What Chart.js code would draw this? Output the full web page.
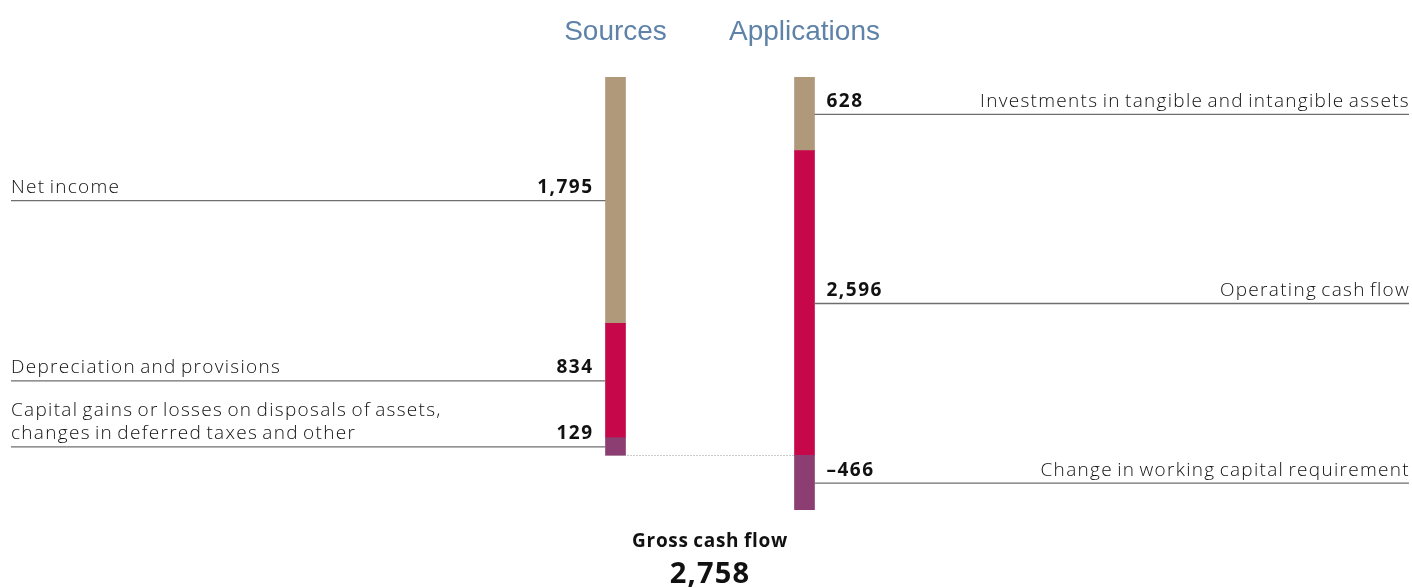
<!DOCTYPE html>
<html>
<head>
<meta charset="utf-8">
<script src="https://cdn.jsdelivr.net/npm/chart.js@4"></script>
<style>
  html, body { margin: 0; padding: 0; background: #fff; }
  #wrap { width: 1412px; height: 588px; position: relative; }
</style>
</head>
<body>
<div id="wrap"><canvas id="flowChart"></canvas></div>
<script>
// data
const columns = ["Sources", "Applications"];

// stacked bottom -> top
const sourceLabels = [
  ["Capital gains or losses on disposals of assets,", "changes in deferred taxes and other"],
  ["Depreciation and provisions"],
  ["Net income"]
];
const sourceValues = [129, 834, 1795];
const sourceText = ["129", "834", "1,795"];

const applicationLabels = [
  ["Change in working capital requirement"],
  ["Operating cash flow"],
  ["Investments in tangible and intangible assets"]
];
const applicationValues = [-466, 2596, 628];
const applicationText = ["\u2013466", "2,596", "628"];

const totalLabel = "Gross cash flow";
const totalText = "2,758";

const colors = ["#8c3e72", "#c6074a", "#b0987b"];

// scales: both bars share top + zero line
const sourceMax = sourceValues.reduce((a, b) => a + b, 0);
const appMax = applicationValues.filter(v => v > 0).reduce((a, b) => a + b, 0);
const appMin = Math.min(...applicationValues);
const sourceMin = appMin * sourceMax / appMax;

const datasets = [];
sourceValues.forEach((v, i) => {
  datasets.push({
    data: [v, null],
    yAxisID: "y",
    backgroundColor: colors[i],
    side: "left",
    idx: i
  });
});
applicationValues.forEach((v, i) => {
  datasets.push({
    data: [null, v],
    yAxisID: "y2",
    backgroundColor: colors[i],
    side: "right",
    idx: i
  });
});

const FONT = "'Open Sans', Lato, sans-serif";

function spaced(ctx, letter, word) {
  ctx.letterSpacing = letter + "px";
  ctx.wordSpacing = word + "px";
}

const labelPlugin = {
  id: "flowLabels",
  afterDatasetsDraw(chart) {
    const ctx = chart.ctx;
    ctx.save();

    let leftBar = null, rightBar = null;

    chart.data.datasets.forEach((ds, di) => {
      const meta = chart.getDatasetMeta(di);
      const col = ds.side === "left" ? 0 : 1;
      const el = meta.data[col];
      if (!el) return;
      const half = el.width / 2;
      const yMid = (el.y + el.base) / 2;
      if (ds.side === "left") leftBar = el; else rightBar = el;

      ctx.strokeStyle = "#6e6e6e";
      ctx.lineWidth = 1.3;
      ctx.beginPath();
      if (ds.side === "left") {
        ctx.moveTo(11, yMid + 0.5);
        ctx.lineTo(el.x - half, yMid + 0.5);
      } else {
        ctx.moveTo(el.x + half, yMid + 0.5);
        ctx.lineTo(1409, yMid + 0.5);
      }
      ctx.stroke();

      ctx.fillStyle = "#111";
      ctx.textBaseline = "alphabetic";
      const lines = ds.side === "left" ? sourceLabels[ds.idx] : applicationLabels[ds.idx];
      const txt = ds.side === "left" ? sourceText[ds.idx] : applicationText[ds.idx];

      // value
      ctx.font = "bold 19px " + FONT;
      spaced(ctx, 1.5, 0);
      if (ds.side === "left") {
        ctx.textAlign = "right";
        ctx.fillText(txt, el.x - half - 12, yMid - 7);
      } else {
        ctx.textAlign = "left";
        ctx.fillText(txt, el.x + half + 12, yMid - 7);
      }

      // label
      ctx.font = "300 19px " + FONT;
      spaced(ctx, 1.3, -2);
      ctx.textAlign = ds.side === "left" ? "left" : "right";
      const lx = ds.side === "left" ? 11 : 1410;
      lines.forEach((ln, k) => {
        ctx.fillText(ln, lx, yMid - 7 - (lines.length - 1 - k) * 23);
      });
    });

    // dotted connector at zero
    const y0 = chart.scales.y.getPixelForValue(0);
    ctx.strokeStyle = "#999";
    ctx.lineWidth = 1;
    ctx.setLineDash([1, 2]);
    ctx.beginPath();
    ctx.moveTo(leftBar.x, Math.round(y0) + 0.5);
    ctx.lineTo(rightBar.x - rightBar.width / 2, Math.round(y0) + 0.5);
    ctx.stroke();
    ctx.setLineDash([]);

    // column titles
    spaced(ctx, 0, 0);
    ctx.fillStyle = "#5e82a8";
    ctx.font = "28px 'Liberation Sans', Arial, sans-serif";
    ctx.textAlign = "center";
    ctx.fillText(columns[0], leftBar.x, 40);
    ctx.fillText(columns[1], rightBar.x, 40);

    // total
    const cx = (leftBar.x + rightBar.x) / 2;
    ctx.fillStyle = "#111";
    ctx.font = "bold 19px " + FONT;
    spaced(ctx, 0.7, -1);
    ctx.fillText(totalLabel, cx, 547);
    ctx.font = "bold 29px " + FONT;
    spaced(ctx, 1.2, 0);
    ctx.fillText(totalText, cx, 583);

    ctx.restore();
  }
};

new Chart(document.getElementById("flowChart"), {
  type: "bar",
  data: { labels: columns, datasets: datasets },
  options: {
    responsive: true,
    maintainAspectRatio: false,
    animation: false,
    layout: { padding: { left: 521, right: 513, top: 77, bottom: 78 } },
    datasets: { bar: { barThickness: 20, borderWidth: 0 } },
    scales: {
      x: { stacked: true, display: false },
      y: { stacked: true, display: false, min: sourceMin, max: sourceMax },
      y2: { stacked: true, display: false, min: appMin, max: appMax }
    },
    plugins: {
      legend: { display: false },
      tooltip: { enabled: false }
    }
  },
  plugins: [labelPlugin]
});
</script>
</body>
</html>
